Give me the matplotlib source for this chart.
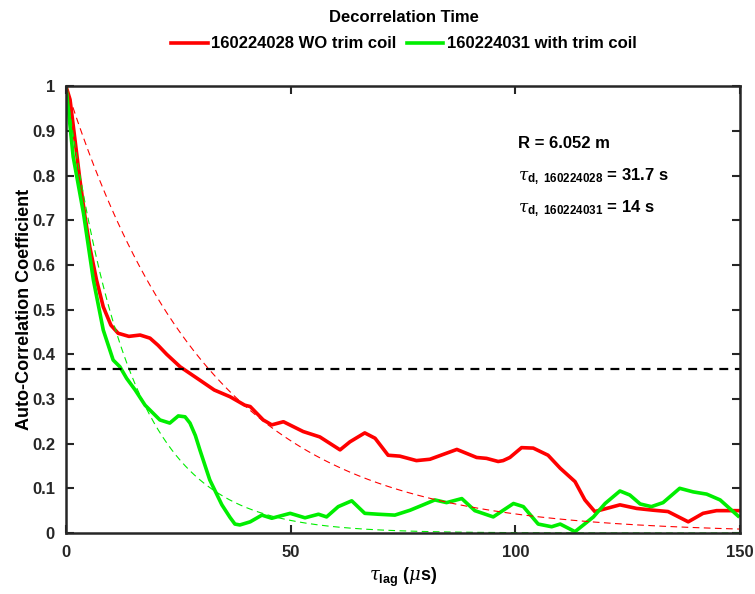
import numpy as np
import matplotlib.pyplot as plt

plt.rcParams['font.family'] = ['Liberation Sans', 'DejaVu Sans']
plt.rcParams['mathtext.fontset'] = 'custom'
plt.rcParams['mathtext.rm'] = 'Liberation Sans:bold'
plt.rcParams['mathtext.it'] = 'DejaVu Serif:italic'

# shot 160224028 (without trim coil)
lag_red = [0, 0.9, 2, 3.1, 4.2, 5.3, 6.8, 8.3, 10, 11.6, 14, 16.5, 18.7, 20.5, 22.4, 25.4,
           29.8, 33, 36.5, 39.8, 41, 43.9, 45.8, 48.4, 52.8, 56.5, 61, 63.2, 66.5, 68.8,
           71.7, 74.3, 78, 81, 84, 87, 91.4, 93.6, 96.2, 97.3, 98.8, 101.4, 104, 107.3, 110,
           113.3, 115.5, 117.7, 119.6, 123.3, 127, 130.7, 134, 138.5, 141.8, 144.8, 149.6]
acf_red = [1.0, 0.97, 0.88, 0.79, 0.71, 0.64, 0.566, 0.506, 0.465, 0.447, 0.44, 0.443,
           0.436, 0.42, 0.40, 0.372, 0.342, 0.32, 0.305, 0.286, 0.283, 0.253, 0.242, 0.249,
           0.227, 0.215, 0.186, 0.204, 0.224, 0.212, 0.174, 0.172, 0.162, 0.165, 0.176,
           0.187, 0.169, 0.167, 0.16, 0.162, 0.169, 0.191, 0.19, 0.174, 0.145, 0.115, 0.074,
           0.048, 0.053, 0.063, 0.055, 0.051, 0.048, 0.025, 0.044, 0.05, 0.05]

# shot 160224031 (with trim coil)
lag_green = [0, 1.6, 3.9, 6.1, 8.3, 10.5, 12, 13.5, 15.4, 17.6, 20.9, 23.1, 25, 26.5, 27.6,
             28.8, 29.8, 32, 34.7, 36.5, 37.6, 38.7, 41, 43.6, 45.8, 49.9, 53.2, 56.2, 58,
             60.6, 63.6, 66.5, 69.5, 73.2, 76.6, 79.5, 82.1, 84.7, 88.1, 91, 95.1, 99.6,
             101.8, 105.1, 108.1, 110, 113.3, 117.4, 120, 123.3, 125.5, 127.8, 130.3,
             132.9, 136.6, 139.6, 142.6, 145.6, 149.6]
acf_green = [1.0, 0.842, 0.715, 0.566, 0.454, 0.387, 0.372, 0.346, 0.32, 0.286, 0.253,
             0.246, 0.262, 0.26, 0.246, 0.218, 0.186, 0.119, 0.063, 0.035, 0.02, 0.018,
             0.025, 0.04, 0.033, 0.044, 0.034, 0.042, 0.036, 0.059, 0.072, 0.044, 0.042,
             0.04, 0.051, 0.063, 0.074, 0.068, 0.077, 0.05, 0.036, 0.066, 0.059, 0.02,
             0.014, 0.02, 0.003, 0.036, 0.066, 0.094, 0.085, 0.065, 0.059, 0.068, 0.1,
             0.092, 0.087, 0.074, 0.038]

tau_red = 31.7
tau_green = 14
radius = 6.052

fig = plt.figure(figsize=(7.55, 5.94), dpi=100)
ax = fig.add_axes([0.0874, 0.1027, 0.8926, 0.7523])

t = np.linspace(0, 150, 600)
ax.plot(lag_red, acf_red, color='#ff0000', lw=2.6, label='160224028 WO trim coil')
ax.plot(lag_green, acf_green, color='#00ee00', lw=2.6, label='160224031 with trim coil')
ax.plot(t, np.exp(-t / tau_red), '--', color='#ff0000', lw=0.8, dashes=(6, 4))
ax.plot(t, np.exp(-t / tau_green), '--', color='#00ee00', lw=0.8, dashes=(6, 4))
ax.axhline(np.exp(-1), color='k', ls='--', lw=1.6, dashes=(4, 3))

ax.set_xlim(0, 150)
ax.set_ylim(0, 1)
ax.set_xticks([0, 50, 100, 150])
ax.set_yticks(np.arange(0, 1.01, 0.1))
ax.set_yticklabels(['0', '0.1', '0.2', '0.3', '0.4', '0.5', '0.6', '0.7', '0.8', '0.9', '1'])
ax.tick_params(direction='in', length=6, width=1.5, top=True, right=True, labelsize=12,
               labelcolor='#262626', color='#262626')
ax.tick_params(axis='x', pad=9)
ax.tick_params(axis='y', pad=8)
for lab in ax.get_xticklabels() + ax.get_yticklabels():
    lab.set_fontweight('bold')
for s in ax.spines.values():
    s.set_linewidth(1.8)
    s.set_color('#262626')

ax.set_xlabel(r'$\tau_{\rm lag}$ ($\mu$s)', fontsize=13, fontweight='bold', labelpad=4)
ax.set_ylabel('Auto-Correlation Coefficient', fontsize=13, fontweight='bold', labelpad=-1)

ax.text(0.671, 0.862, f'R = {radius} m', transform=ax.transAxes, fontsize=12, fontweight='bold')
ax.text(0.671, 0.79, r'$\tau_{\rm d,\ 160224028}$' + f' = {tau_red} s', transform=ax.transAxes,
        fontsize=12, fontweight='bold')
ax.text(0.671, 0.718, r'$\tau_{\rm d,\ 160224031}$' + f' = {tau_green} s', transform=ax.transAxes,
        fontsize=12, fontweight='bold')

fig.text(0.535, 0.97, 'Decorrelation Time', ha='center', va='center', fontsize=12, fontweight='bold')
fig.legend(loc='center', bbox_to_anchor=(0.535, 0.926), ncol=2, frameon=False,
           prop={'weight': 'bold', 'size': 12}, handlelength=2.2, handletextpad=0.2,
           columnspacing=0.6)

fig.savefig('out.png', dpi=100)
